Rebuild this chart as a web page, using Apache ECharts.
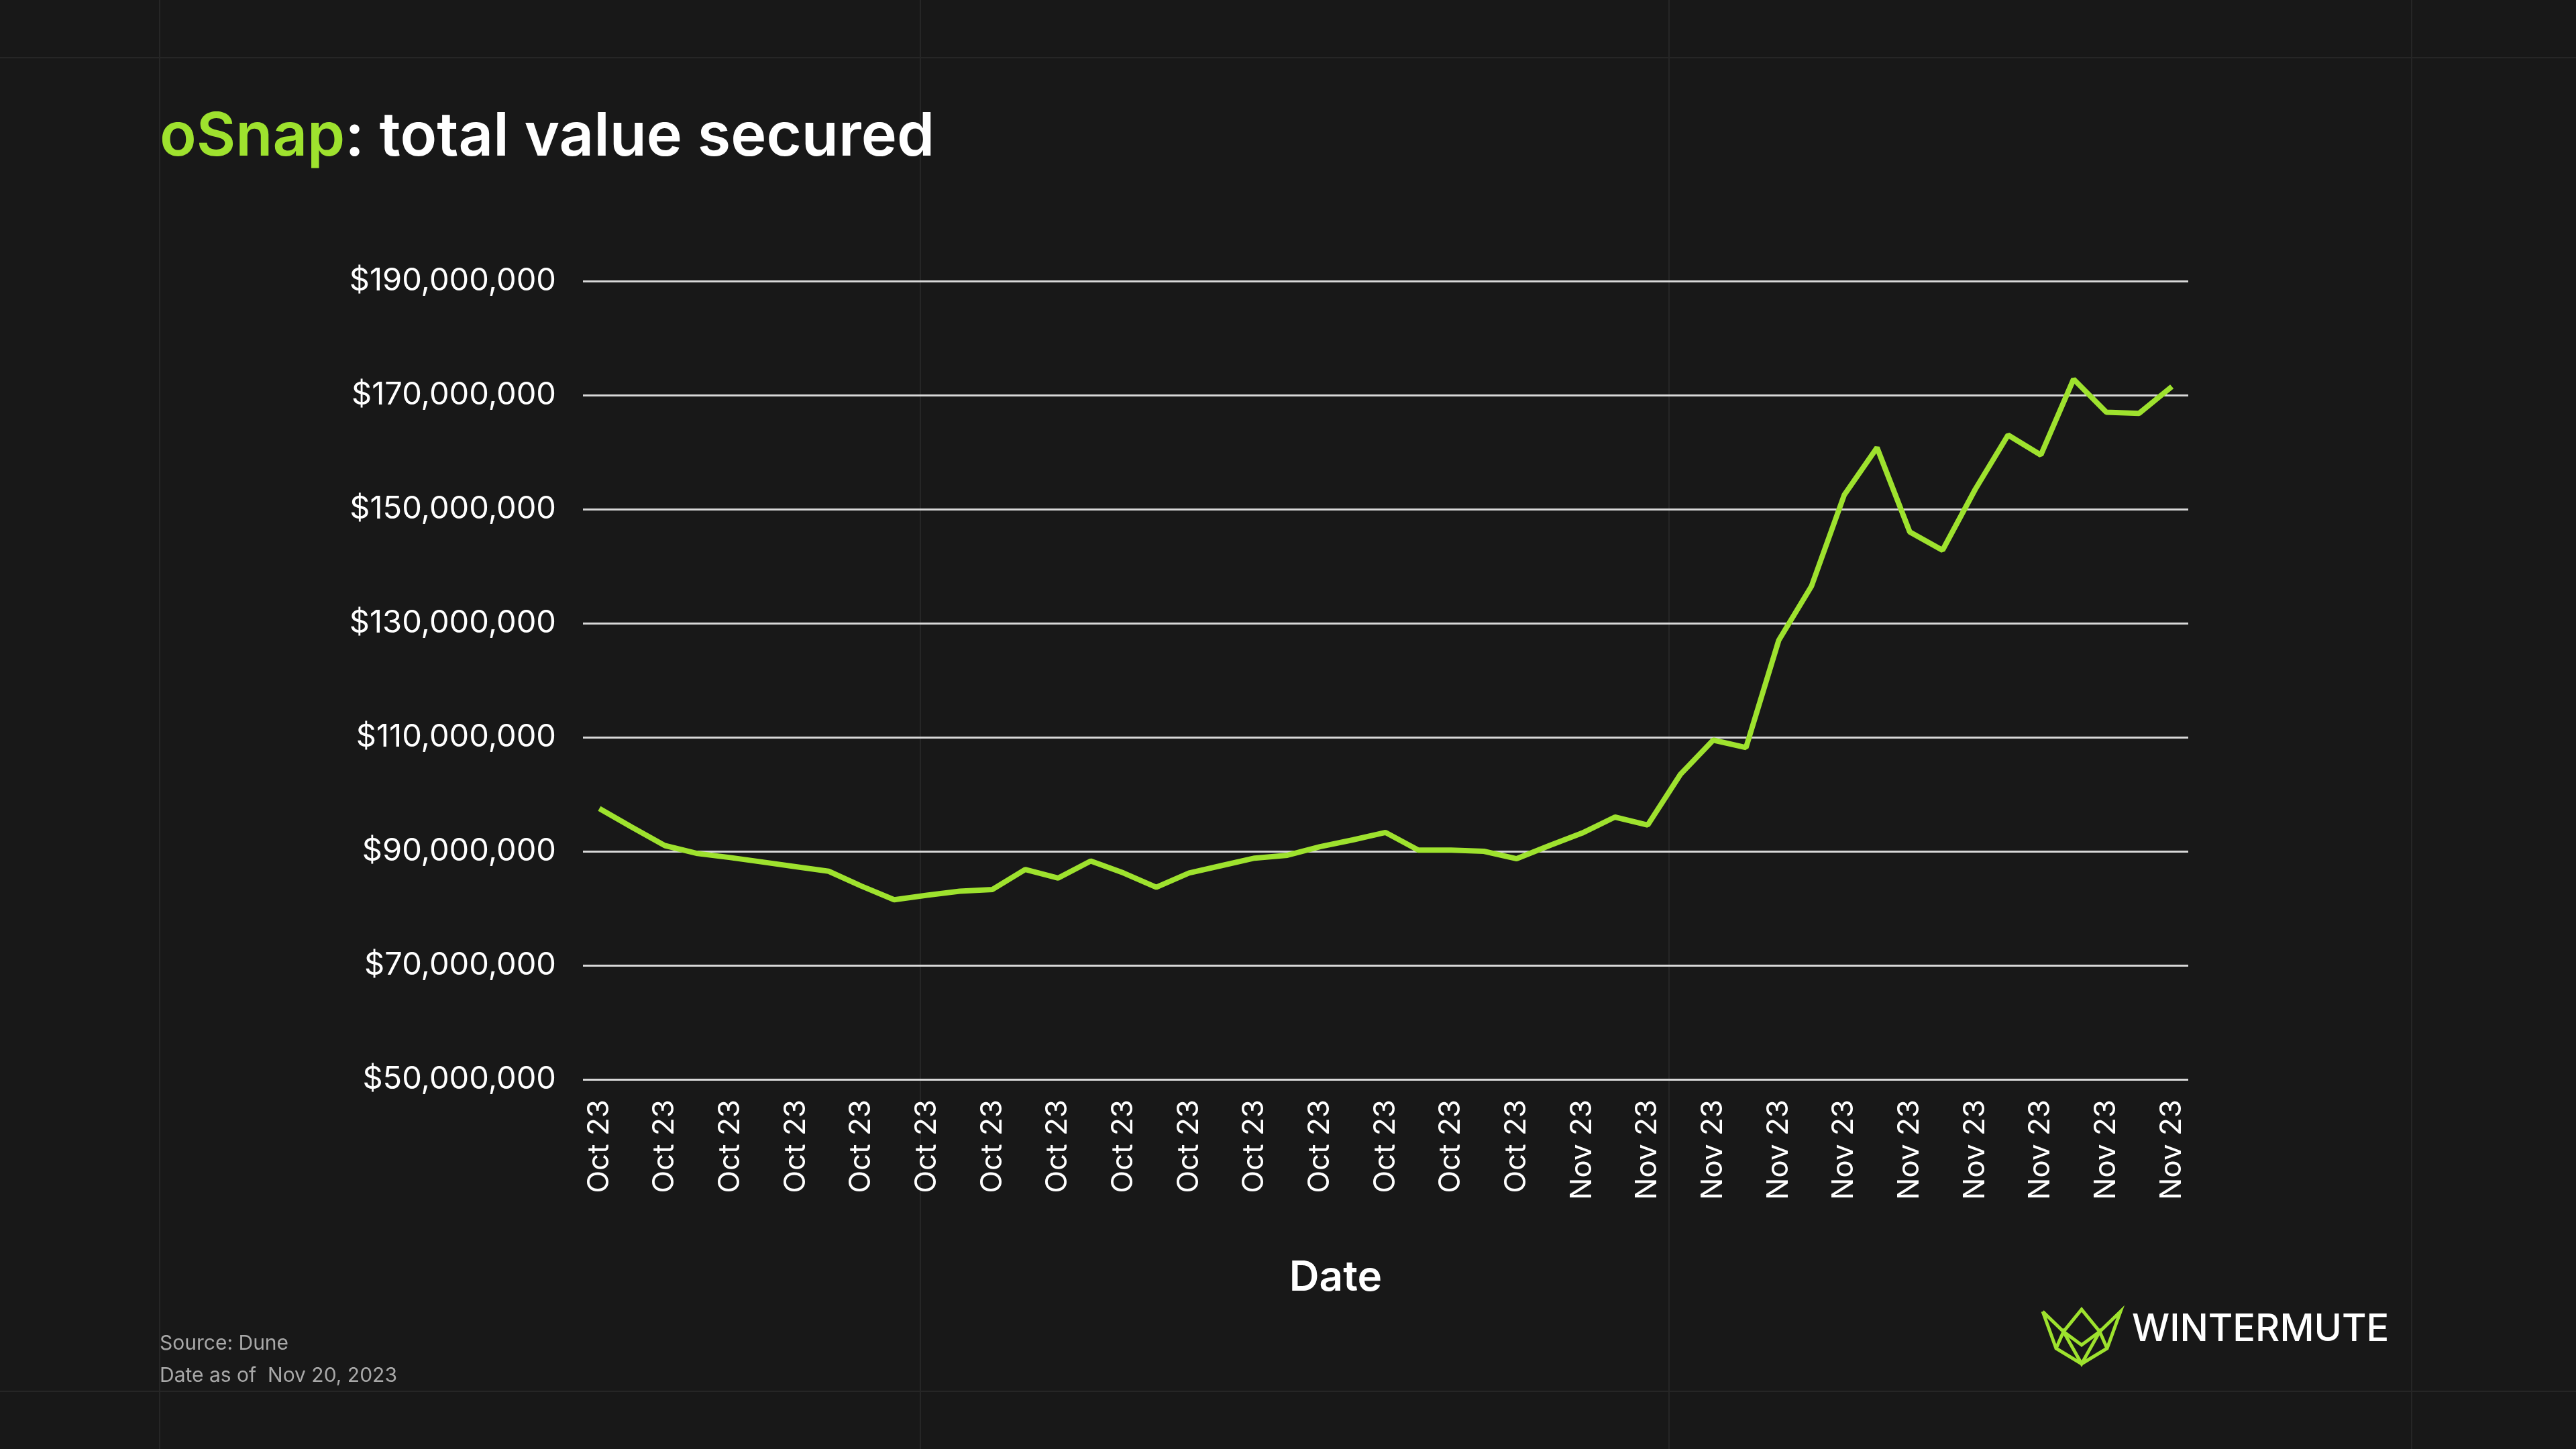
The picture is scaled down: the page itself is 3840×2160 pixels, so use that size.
<!DOCTYPE html>
<html><head><meta charset="utf-8">
<script src="https://cdn.jsdelivr.net/npm/echarts@6/dist/echarts.min.js"></script>
<style>html,body{margin:0;padding:0;background:#181818}#c{width:3840px;height:2160px}</style>
</head><body><div id="c"></div>
<script>
const dates = [];
for (let d = 3; d <= 31; d++) dates.push('2023-10-' + String(d).padStart(2,'0'));
for (let d = 1; d <= 20; d++) dates.push('2023-11-' + String(d).padStart(2,'0'));
const tvsMillions = [97.5,94.2,91,89.6,88.9,88.1,87.3,86.5,83.9,81.5,82.3,83,83.3,86.8,85.3,88.3,86.2,83.7,86.2,87.5,88.8,89.3,90.8,92,93.3,90.2,90.2,90,88.7,91,93.2,96,94.6,103.5,109.5,108.2,127,136.5,152.5,160.8,146,142.8,153.5,163,159.5,172.8,167,166.8,171.5];
const monthNames = ['Jan','Feb','Mar','Apr','May','Jun','Jul','Aug','Sep','Oct','Nov','Dec'];
const lime = '#9ee22e';
const chart = echarts.init(document.getElementById('c'));
const vLines = [238, 1372, 2488, 3595].map(x => ({type:'line',shape:{x1:x,y1:0,x2:x,y2:2160},style:{stroke:'#262626',lineWidth:2},silent:true}));
const hLines = [86, 2074].map(y => ({type:'line',shape:{x1:0,y1:y,x2:3840,y2:y},style:{stroke:'#262626',lineWidth:2},silent:true}));
chart.setOption({
  backgroundColor:'#181818',
  animation:false,
  textStyle:{fontFamily:'Inter'},
  graphic:[...vLines, ...hLines,
    {type:'text',left:238,top:160,style:{rich:{a:{fill:lime,fontSize:90,fontWeight:600,fontFamily:'Inter'},b:{fill:'#ffffff',fontSize:90,fontWeight:600,fontFamily:'Inter'}},text:'{a|oSnap}{b|: total value secured}'}},
    {type:'text',left:238,top:1988,style:{text:'Source: Dune',fill:'#a8a8a8',fontSize:30,fontFamily:'Inter'}},
    {type:'text',left:238,top:2036,style:{text:'Date as of  Nov 20, 2023',fill:'#a8a8a8',fontSize:30,fontFamily:'Inter'}},
    {type:'text',x:1991,y:1905,style:{text:'Date',fill:'#ffffff',fontSize:62,fontWeight:600,fontFamily:'Inter',align:'center',verticalAlign:'middle'}},
    {type:'text',left:3178,top:1954,style:{text:'WINTERMUTE',fill:'#ffffff',fontSize:56,fontWeight:500,fontFamily:'Inter',letterSpacing:10}},
    {type:'polyline',shape:{points:[[3045,1955],[3065,2010],[3103,2033],[3141,2010],[3161,1955],[3130,1985],[3103,1952],[3076,1985],[3045,1955]]},style:{stroke:lime,fill:null,lineWidth:5}},
    {type:'polyline',shape:{points:[[3065,2010],[3076,1985],[3103,2033],[3130,1985],[3141,2010]]},style:{stroke:lime,fill:null,lineWidth:5}},
    {type:'polyline',shape:{points:[[3076,1985],[3103,2005],[3130,1985]]},style:{stroke:lime,fill:null,lineWidth:5}}
  ],
  grid:{left:869,right:578,top:419,bottom:551,containLabel:false},
  xAxis:{type:'category',data:dates,boundaryGap:true,
    axisLine:{show:false},axisTick:{show:false},
    axisLabel:{interval:1,rotate:90,color:'#ffffff',fontSize:44,fontFamily:'Inter',margin:30,
      formatter:v=>{const m=+v.slice(5,7);return monthNames[m-1]+' '+v.slice(2,4);}}},
  yAxis:{type:'value',min:50000000,max:190000000,interval:20000000,
    axisLine:{show:false},axisTick:{show:false},
    splitLine:{lineStyle:{color:'#d8d8d8',width:3}},
    axisLabel:{color:'#ffffff',fontSize:47,fontFamily:'Inter',margin:40,
      formatter:v=>'$'+v.toLocaleString('en-US')}},
  series:[{type:'line',data:tvsMillions.map(v=>v*1e6),showSymbol:false,
    lineStyle:{color:lime,width:8},itemStyle:{color:lime}}]
});
</script></body></html>
